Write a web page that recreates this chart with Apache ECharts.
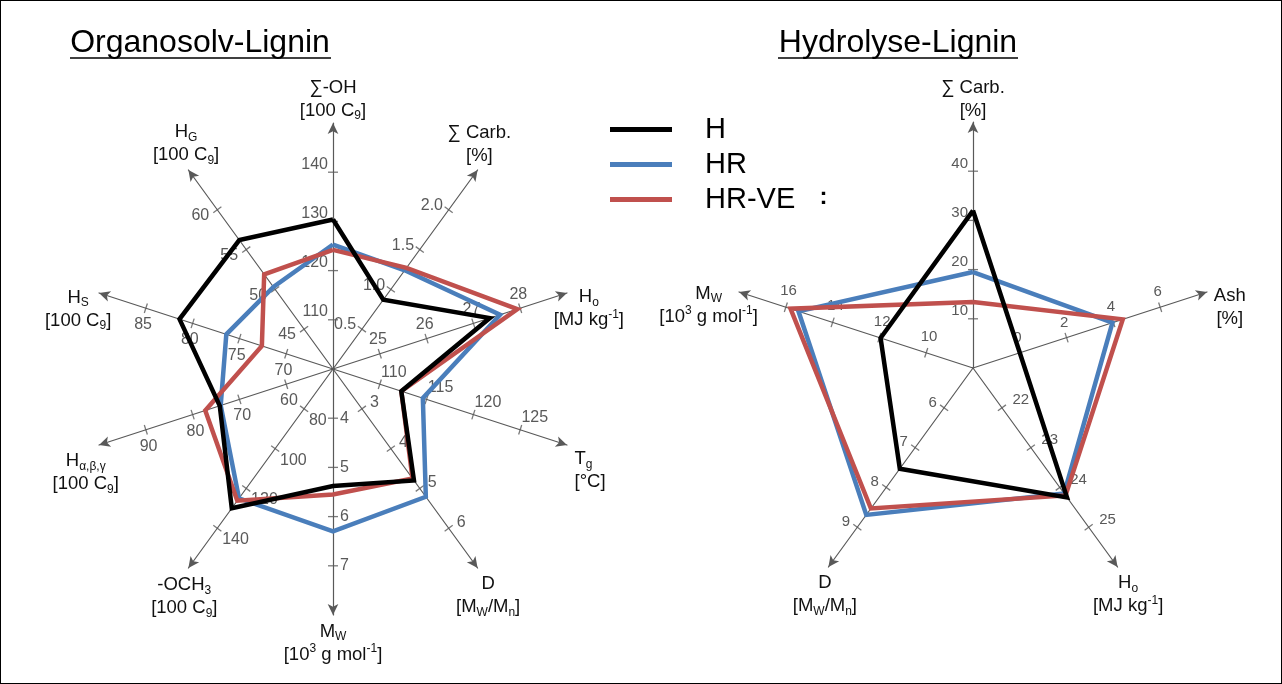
<!DOCTYPE html>
<html><head><meta charset="utf-8">
<script src="https://cdn.jsdelivr.net/npm/echarts@6/dist/echarts.min.js"></script>
<style>
html,body{margin:0;padding:0;background:#fff;}
#chart{width:1282px;height:684px;}
#frame{position:absolute;left:0;top:0;width:1282px;height:684px;box-sizing:border-box;border:1px solid #000;pointer-events:none;}
</style></head>
<body><div id="chart"></div><div id="frame"></div>
<script>
// ---------------- DATA ----------------
const seriesNames = ['H', 'HR', 'HR-VE'];

// Organosolv-Lignin: axes counter-clockwise starting at the top
const orgAxisNames = [
  '∑-OH\n[100 C{sub|9}]',
  'H{sub|G}\n[100 C{sub|9}]',
  'H{sub|S}\n[100 C{sub|9}]',
  'H{sub|α,β,γ}\n[100 C{sub|9}]',
  '-OCH{sub|3}\n[100 C{sub|9}]',
  'M{sub|W}\n[10{sup|3} g mol{sup|-1}]',
  'D\n[M{sub|W}/M{sub|n}]',
  'T{sub|g}\n[°C]',
  'H{sub|o}\n[MJ kg{sup|-1}]',
  '∑ Carb.\n[%]'
];
const orgTicks = [
  ['110', '120', '130', '140'],
  ['45', '50', '55', '60'],
  ['70', '75', '80', '85'],
  ['60', '70', '80', '90'],
  ['80', '100', '120', '140'],
  ['4', '5', '6', '7'],
  ['3', '4', '5', '6'],
  ['110', '115', '120', '125'],
  ['25', '26', '27', '28'],
  ['0.5', '1.0', '1.5', '2.0']
];
const orgH    = [130.4, 56.2, 81.4, 74.2, 130.0, 5.38, 4.80, 112.3, 27.35, 0.87];
const orgHR   = [125.3, 50.3, 76.4, 74.0, 125.0, 6.30, 5.21, 114.6, 27.57, 1.24];
const orgHRVE = [124.2, 51.9, 72.6, 77.3, 126.2, 5.55, 4.75, 112.3, 27.94, 1.27];

// Hydrolyse-Lignin: axes counter-clockwise starting at the top
const hydAxisNames = [
  '∑ Carb.\n[%]',
  'M{sub|W}\n[10{sup|3} g mol{sup|-1}]',
  'D\n[M{sub|W}/M{sub|n}]',
  'H{sub|o}\n[MJ kg{sup|-1}]',
  'Ash\n[%]'
];
const hydTicks = [
  ['10', '20', '30', '40'],
  ['10', '12', '14', '16'],
  ['6', '7', '8', '9'],
  ['22', '23', '24', '25'],
  ['0', '2', '4', '6']
];
const hydH    = [32.0, 11.95, 7.53, 24.25, 0.0];
const hydHR   = [19.5, 15.46, 8.69, 24.15, 3.96];
const hydHRVE = [13.4, 15.80, 8.53, 24.20, 4.40];

// ---------------- STYLE / LAYOUT ----------------
const FONT = '"Liberation Sans", Arial, sans-serif';
const AXIS_COLOR = '#595959';
const COLORS = { 'H': '#000000', 'HR': '#4a7ebb', 'HR-VE': '#c0504d' };
const R = 246;
const orgCenter = [333, 369];
const hydCenter = [973, 368];
// name layout: [gap, align, verticalAlign, padding]
const orgNameLayout = [
  [1, 'center', 'bottom', 0], [4, 'center', 'bottom', 0], [22, 'center', 'top', 0], [14, 'center', 'top', 0],
  [7, 'center', 'top', 0], [5, 'center', 'top', 0], [6, 'center', 'top', [0, 0, 0, 14]], [8, 'left', 'top', 0],
  [23, 'center', 'top', 0], [3, 'center', 'bottom', 0]
];
const hydNameLayout = [
  [0, 'center', 'bottom', 0], [32, 'center', 'top', 0], [6, 'center', 'top', 0],
  [6, 'center', 'top', [0, 0, 0, 14]], [24, 'center', 'top', 0]
];
const orgLabelLayout = [
  { verticalAlign: 'bottom', margin: 5 },
  { align: 'right', verticalAlign: 'middle', margin: 10 },
  { align: 'center', verticalAlign: 'top', margin: 9 },
  { align: 'center', verticalAlign: 'top', margin: 9 },
  { align: 'left', verticalAlign: 'top', margin: 6 },
  {},
  { margin: 10 },
  { align: 'left', verticalAlign: 'bottom', margin: 4 },
  { align: 'center', verticalAlign: 'bottom', margin: 6 },
  {}
];
const hydLabelLayout = [
  { verticalAlign: 'bottom', margin: 5 },
  { margin: -9, align: 'center', verticalAlign: 'bottom' },
  { margin: -9, align: 'right', verticalAlign: 'middle' },
  { margin: 13 },
  { align: 'center', verticalAlign: 'bottom', margin: 8 }
];

const richName = {
  sub: { fontSize: 12, verticalAlign: 'bottom', fontFamily: FONT, color: '#111', lineHeight: 23 },
  sup: { fontSize: 12, verticalAlign: 'top', fontFamily: FONT, color: '#111', lineHeight: 23 }
};

const polar = [], angleAxis = [], radiusAxis = [], series = [];
const radar = [];

function extentOf(ticks) {
  const nums = ticks.map(Number);
  const step = nums[1] - nums[0];
  const min = +(nums[0] - step).toFixed(6);
  const max = +(min + 5 * step).toFixed(6);
  return { nums, step, min, max };
}

function addChart(center, names, ticksList, nameLayout, labelLayout, angleStep, labelFont) {
  const indicators = [];
  names.forEach((nm, i) => {
    const k = polar.length;
    const ang = 90 + angleStep * i;
    const e = extentOf(ticksList[i]);
    indicators.push({ name: 'a' + i, min: e.min, max: e.max });
    polar.push({ center: center, radius: R });
    angleAxis.push({ polarIndex: k, type: 'value', min: 0, max: 360, startAngle: ang, show: false });
    const lab = labelLayout[i];
    const nl = nameLayout[i];
    const tickStrings = ticksList[i];
    radiusAxis.push({
      polarIndex: k, type: 'value', min: e.min, max: e.max, interval: e.step,
      axisLine: { show: true, symbol: ['none', 'arrow'], symbolSize: [8, 11],
        lineStyle: { color: AXIS_COLOR, width: 1.2 } },
      axisTick: { show: false },
      splitLine: { show: false }, splitArea: { show: false },
      axisLabel: Object.assign({
        show: true, customValues: e.nums, hideOverlap: false,
        color: AXIS_COLOR, fontSize: labelFont, fontFamily: FONT, margin: 7,
        formatter: function (v) {
          for (let j = 0; j < e.nums.length; j++) if (Math.abs(e.nums[j] - v) < 1e-9) return tickStrings[j];
          return '';
        }
      }, lab),
      name: nm, nameLocation: 'end', nameGap: nl[0], nameMoveOverlap: false,
      nameTextStyle: { color: '#111', fontSize: 18.5, fontFamily: FONT, lineHeight: 23,
        align: nl[1], verticalAlign: nl[2], padding: nl[3], rich: richName }
    });
    series.push({
      type: 'scatter', coordinateSystem: 'polar', polarIndex: k, silent: true,
      data: e.nums.map(v => [v, 0]), symbol: 'rect', symbolSize: [1.3, 10], symbolRotate: ang,
      itemStyle: { color: AXIS_COLOR }, z: 1
    });
  });
  radar.push({
    center: center, radius: R, startAngle: 90, splitNumber: 5, shape: 'polygon',
    indicator: indicators,
    axisName: { show: false }, axisLine: { show: false }, axisTick: { show: false },
    axisLabel: { show: false }, splitLine: { show: false }, splitArea: { show: false }
  });
}

addChart(orgCenter, orgAxisNames, orgTicks, orgNameLayout, orgLabelLayout, 36, 16);
addChart(hydCenter, hydAxisNames, hydTicks, hydNameLayout, hydLabelLayout, 72, 15);

function radarItem(name, values) {
  return { name: name, value: values,
    lineStyle: { color: COLORS[name], width: 4.5, join: 'miter', miterLimit: 10 },
    itemStyle: { color: COLORS[name] }, areaStyle: null };
}
series.push({
  type: 'radar', radarIndex: 0, symbol: 'none', z: 3, silent: true,
  data: [radarItem('HR', orgHR), radarItem('HR-VE', orgHRVE), radarItem('H', orgH)]
});
series.push({
  type: 'radar', radarIndex: 1, symbol: 'none', z: 3, silent: true,
  data: [radarItem('HR', hydHR), radarItem('HR-VE', hydHRVE), radarItem('H', hydH)]
});

const chart = echarts.init(document.getElementById('chart'), null, { renderer: 'canvas' });
chart.setOption({
  animation: false,
  backgroundColor: '#ffffff',
  title: [
    { text: 'Organosolv-Lignin', left: 195, top: 22, textAlign: 'center',
      textStyle: { fontSize: 32, fontWeight: 'normal', color: '#000', fontFamily: FONT } },
    { text: 'Hydrolyse-Lignin', left: 893, top: 22, textAlign: 'center',
      textStyle: { fontSize: 32, fontWeight: 'normal', color: '#000', fontFamily: FONT } }
  ],
  graphic: [
    { type: 'line', shape: { x1: 70, y1: 58, x2: 331, y2: 58 }, style: { stroke: '#000', lineWidth: 1.5 } },
    { type: 'line', shape: { x1: 778, y1: 58, x2: 1018, y2: 58 }, style: { stroke: '#000', lineWidth: 1.5 } }
  ],
  legend: {
    orient: 'vertical', left: 605, top: 110, itemWidth: 62, itemHeight: 5, itemGap: 6,
    icon: 'rect', selectedMode: false,
    data: seriesNames,
    formatter: n => (n === 'HR-VE' ? n + '   {c|:}' : n),
    textStyle: { fontSize: 29, color: '#000', fontFamily: FONT, padding: [0, 0, 0, 28],
      rich: { c: { fontSize: 24, fontWeight: 'bold', verticalAlign: 'top', fontFamily: FONT, color: '#000' } } }
  },
  polar: polar, angleAxis: angleAxis, radiusAxis: radiusAxis, radar: radar,
  series: series
});
</script></body></html>
